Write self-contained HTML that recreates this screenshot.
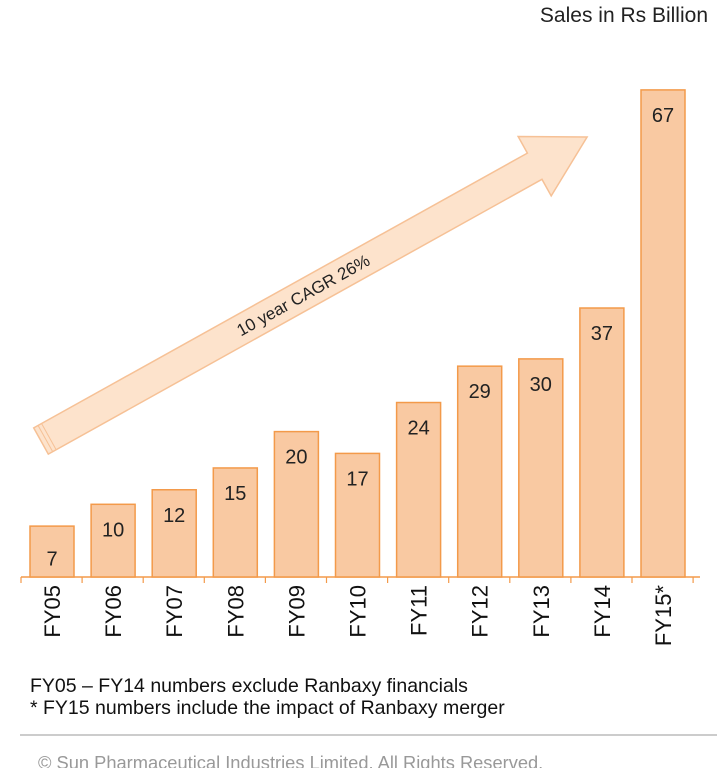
<!DOCTYPE html>
<html><head><meta charset="utf-8"><style>
html,body{margin:0;padding:0;background:#fff;width:717px;height:768px;overflow:hidden}
svg{display:block;font-family:"Liberation Sans",sans-serif}
</style></head><body>
<svg id="chart" width="717" height="768" viewBox="0 0 717 768">
<text x="708" y="22" text-anchor="end" font-size="21" fill="#222">Sales in Rs Billion</text>
<g id="arrow" transform="translate(41,441) rotate(-29.1)">
<polygon points="0,-15 565,-15 565,-34 625,0 565,34 565,15 0,15" fill="#fde3cc" stroke="#f6c196" stroke-width="1.5"/>
<line x1="5" y1="-15" x2="5" y2="15" stroke="#f6c196"/>
<line x1="9" y1="-15" x2="9" y2="15" stroke="#f6c196"/>
<text x="300" y="6" text-anchor="middle" font-size="17" fill="#222">10 year CAGR 26%</text>
</g>
<g id="bars"></g>
<text x="30" y="692" font-size="19.5" fill="#111">FY05 – FY14 numbers exclude Ranbaxy financials</text>
<text x="30" y="714" font-size="19.5" fill="#111">* FY15 numbers include the impact of Ranbaxy merger</text>
<line x1="20" y1="735" x2="717" y2="735" stroke="#bbb" stroke-width="1.5"/>
<text x="38" y="769" font-size="18.3" fill="#999">© Sun Pharmaceutical Industries Limited. All Rights Reserved.</text>
</svg>
<script>
const categories = ["FY05","FY06","FY07","FY08","FY09","FY10","FY11","FY12","FY13","FY14","FY15*"];
const values = [7,10,12,15,20,17,24,29,30,37,67];
const valueLabels = ["7","10","12","15","20","17","24","29","30","37","67"];
const NS="http://www.w3.org/2000/svg";
const g=document.getElementById('bars');
const baseY=577, pxPerUnit=7.27, step=61.1, x0=30, bw=44;
function xPos(i){return x0+i*step;}
function yPos(v){return baseY-v*pxPerUnit;}
function mk(t,a){const e=document.createElementNS(NS,t);for(const k in a)e.setAttribute(k,a[k]);g.appendChild(e);return e;}
const axis=mk('line',{x1:21,y1:baseY,x2:700,y2:baseY,stroke:'#f39a4a','stroke-width':1.5});


for(let i=0;i<=categories.length;i++){
  const tx=x0-9+i*step;
  const t=mk('line',{x1:tx,y1:baseY,x2:tx,y2:baseY+6,stroke:'#f39a4a','stroke-width':1.2});
  
  
}
categories.forEach((c,i)=>{
  const x=xPos(i),y=yPos(values[i]);
  const r=mk('rect',{x:x,y:y,width:bw,height:baseY-y,fill:'#f9c9a2',stroke:'#f39a4a','stroke-width':1.5});
  
  
  const ty = values[i]<10 ? (y+baseY)/2+14 : y+32;
  const v=mk('text',{x:x+bw/2,y:ty,'text-anchor':'middle','font-size':20,fill:'#222'});
  v.textContent=valueLabels[i];
  
  
  const cx=x+bw/2+8;
  const l=mk('text',{x:cx,y:585,'text-anchor':'end','font-size':22,fill:'#111',transform:'rotate(-90 '+cx+' 585)'});
  l.textContent=c;
  
  
});
</script>
</body></html>
